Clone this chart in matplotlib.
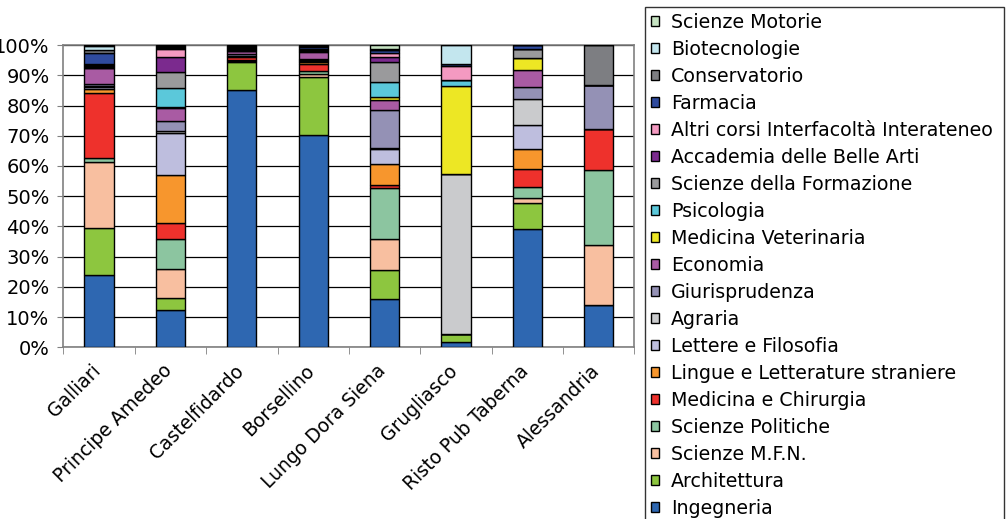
import matplotlib
matplotlib.use("Agg")
import matplotlib.pyplot as plt
import matplotlib.ticker as ticker
import matplotlib.transforms as mtransforms
import numpy as np

plt.rcParams['font.family'] = ['DejaVu Sans']

sedi = ["Galliari", "Principe Amedeo", "Castelfidardo", "Borsellino",
        "Lungo Dora Siena", "Grugliasco", "Risto Pub Taberna", "Alessandria"]

# percentages per faculty, one value per site (bottom of stack first)
ingegneria    = [23.8, 12.2, 85.3, 70.4, 16.0, 1.7, 39.3, 14.0]
architettura  = [15.6, 3.9, 9.2, 18.9, 9.6, 2.7, 8.5, 0.0]
scienze_mfn   = [21.9, 9.9, 0.25, 1.0, 10.3, 0.0, 1.5, 19.7]
scienze_pol   = [1.5, 9.8, 0.25, 1.2, 16.7, 0.0, 3.7, 25.1]
medicina_chir = [21.5, 5.1, 1.1, 2.4, 1.2, 0.0, 5.9, 13.5]
lingue        = [1.1, 16.0, 0.15, 0.4, 7.0, 0.0, 6.7, 0.0]
lettere       = [0.6, 13.8, 0.1, 0.4, 4.8, 0.0, 8.1, 0.0]
agraria       = [0.4, 0.9, 0.1, 0.3, 0.2, 53.1, 8.6, 0.0]
giurisprud    = [0.9, 3.1, 0.6, 0.5, 12.7, 0.0, 3.9, 14.4]
economia      = [5.0, 4.2, 1.0, 2.3, 3.5, 0.0, 5.5, 0.0]
med_veterin   = [0.2, 0.4, 0.1, 0.1, 0.8, 29.0, 3.9, 0.0]
psicologia    = [0.4, 6.2, 0.2, 0.2, 5.0, 2.0, 0.0, 0.0]
sci_formaz    = [0.3, 5.3, 0.2, 0.2, 6.5, 0.0, 3.0, 0.0]
accademia     = [0.2, 5.1, 0.2, 0.3, 1.7, 0.0, 0.0, 0.0]
altri_corsi   = [0.2, 2.6, 0.2, 0.2, 1.3, 4.6, 0.0, 0.0]
farmacia      = [3.8, 0.4, 0.3, 0.6, 1.1, 0.8, 1.4, 0.0]
conservatorio = [0.9, 0.3, 0.2, 0.2, 0.1, 0.0, 0.0, 13.3]
biotecnologie = [1.5, 0.3, 0.3, 0.2, 0.2, 6.1, 0.0, 0.0]
sci_motorie   = [0.2, 0.3, 0.25, 0.2, 1.3, 0.0, 0.0, 0.0]

serie = [
    ("Ingegneria", ingegneria, "#2E67B1"),
    ("Architettura", architettura, "#8DC63F"),
    ("Scienze M.F.N.", scienze_mfn, "#F8BFA0"),
    ("Scienze Politiche", scienze_pol, "#8CC5A0"),
    ("Medicina e Chirurgia", medicina_chir, "#EE312C"),
    ("Lingue e Letterature straniere", lingue, "#F7962D"),
    ("Lettere e Filosofia", lettere, "#BEBEDE"),
    ("Agraria", agraria, "#CACBCD"),
    ("Giurisprudenza", giurisprud, "#9491B5"),
    ("Economia", economia, "#A95BA3"),
    ("Medicina Veterinaria", med_veterin, "#EDE724"),
    ("Psicologia", psicologia, "#5BC8DA"),
    ("Scienze della Formazione", sci_formaz, "#9A9A9C"),
    ("Accademia delle Belle Arti", accademia, "#7B2A8E"),
    ("Altri corsi Interfacoltà Interateneo", altri_corsi, "#F49AC1"),
    ("Farmacia", farmacia, "#2F4B9E"),
    ("Conservatorio", conservatorio, "#7D7E82"),
    ("Biotecnologie", biotecnologie, "#C3E6EE"),
    ("Scienze Motorie", sci_motorie, "#C7E4C3"),
]

# 100% stacked: normalise each column
tot = np.sum([np.array(s[1]) for s in serie], axis=0)

fig = plt.figure(figsize=(10.07, 5.19), dpi=100)
ax = fig.add_axes([0.063, 0.331, 0.567, 0.582])

x = np.arange(len(sedi))
bottom = np.zeros(len(sedi))
handles = []
for nome, vals, col in serie:
    v = np.array(vals) / tot * 100
    b = ax.bar(x, v, 0.41, bottom=bottom, color=col, edgecolor='black',
               linewidth=1.0, label=nome, zorder=3)
    handles.append(b)
    bottom += v

ax.set_xlim(-0.5, len(sedi) - 0.5)
ax.set_ylim(0, 100)
ax.yaxis.set_major_locator(ticker.MultipleLocator(10))
ax.yaxis.set_major_formatter(ticker.FuncFormatter(lambda v, p: "%d%%" % v))
ax.grid(axis='y', color='black', linewidth=0.9, zorder=0)

# category names: rotated texts hung under each bar, shifted a bit left
ax.set_xticks(x)
ax.set_xticklabels([])
off = mtransforms.ScaledTranslation(-8 / 100, -14 / 100, fig.dpi_scale_trans)
for xi, nome in zip(x, sedi):
    ax.text(xi, 0, nome, transform=ax.get_xaxis_transform() + off,
            rotation=45, ha='right', va='top', rotation_mode='anchor',
            fontsize=13.5)
ax.set_xticks(np.arange(len(sedi) + 1) - 0.5, minor=True)
ax.tick_params(axis='x', which='major', length=0)
ax.tick_params(axis='x', which='minor', length=5, direction='out',
               color='#808080')
ax.tick_params(axis='y', length=4, direction='out', color='#808080',
               labelsize=14, pad=6)
for s in ax.spines.values():
    s.set_color('#808080')
    s.set_linewidth(1.2)

leg = fig.legend(handles[::-1], [s[0] for s in serie][::-1],
                 loc='upper left', bbox_to_anchor=(0.6405, 0.0, 0.357, 0.9865),
                 mode='expand', fontsize=13.7, frameon=True, fancybox=False,
                 edgecolor='black', handlelength=0.45, handleheight=0.45,
                 handletextpad=0.6, labelspacing=0.42, borderpad=0.3,
                 borderaxespad=0)
leg.get_frame().set_linewidth(1.0)

fig.savefig("out.png", dpi=100)
